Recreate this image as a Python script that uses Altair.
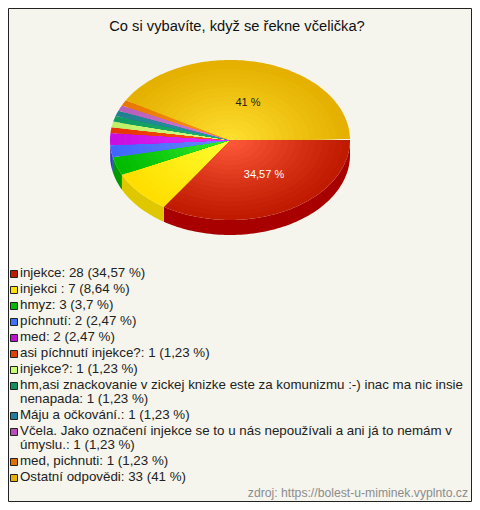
import math
import altair as alt

title_text = "Co si vybavíte, když se řekne včelička?"
source_text = "zdroj: https://bolest-u-miminek.vyplnto.cz"
shares = [34.57, 8.64, 3.7, 2.47, 2.47, 1.15, 1.15, 1.15, 1.15, 1.15, 1.15, 41]
legend_lines = [
    ["injekce: 28 (34,57 %)"],
    ["injekci : 7 (8,64 %)"],
    ["hmyz: 3 (3,7 %)"],
    ["píchnutí: 2 (2,47 %)"],
    ["med: 2 (2,47 %)"],
    ["asi píchnutí injekce?: 1 (1,23 %)"],
    ["injekce?: 1 (1,23 %)"],
    ["hm,asi znackovanie v zickej knizke este za komunizmu :-) inac ma nic insie", "nenapada: 1 (1,23 %)"],
    ["Máju a očkování.: 1 (1,23 %)"],
    ["Včela. Jako označení injekce se to u nás nepoužívali a ani já to nemám v", "úmyslu.: 1 (1,23 %)"],
    ["med, pichnuti: 1 (1,23 %)"],
    ["Ostatní odpovědi: 33 (41 %)"],
]
key_colors = ["#c01a00", "#ffe000", "#00bb00", "#4070ff", "#c010d0", "#e04000",
              "#c8ff70", "#109060", "#207f9f", "#b850b8", "#e07000", "#e8b000"]
inner_colors = ["#ff5a3a", "#ffff33", "#33ee33", "#6a8cff", "#e833ff", "#ff5a1a",
                "#d8ff90", "#20b878", "#3098b0", "#d880d8", "#ff9922", "#ffe030"]
outer_colors = ["#c01a00", "#ffdf00", "#00bb00", "#3f66ff", "#c80ee0", "#e63500",
                "#bff068", "#109a60", "#208090", "#b860b8", "#e87800", "#e5b000"]
side_colors = ["#a80000", "#e0c800", "#009900", "#2040c0", "#9000a0", "#b02000",
               "#90b050", "#087040", "#106070", "#904090", "#b05000", "#b08000"]
MARGIN = 8
W, H = 464, 494
CX, CY, RX, RY, DEPTH = 230 - MARGIN, 140 - MARGIN, 120, 80, 15
RINGS = 18
DEG_PER_SHARE = 3.57


def mix(a, b, t):
    pa = [int(a[i:i + 2], 16) for i in (1, 3, 5)]
    pb = [int(b[i:i + 2], 16) for i in (1, 3, 5)]
    return "#" + "".join(f"{round(x + (y - x) * t):02x}" for x, y in zip(pa, pb))


def feature(points, fill):
    ring = [list(p) for p in points] + [list(points[0])]
    return {"type": "Feature", "properties": {"fill": fill},
            "geometry": {"type": "Polygon", "coordinates": [ring]}}


def arc_points(a0, a1, scale=1.0, dy=0.0):
    n = max(2, int(abs(a1 - a0) / 1.5) + 1)
    out = []
    for i in range(n + 1):
        a = math.radians(a0 + (a1 - a0) * i / n)
        out.append((CX + RX * scale * math.cos(a), CY + dy + RY * scale * math.sin(a)))
    return out


spans = []
acc = 0.0
for s in shares:
    start = acc * DEG_PER_SHARE
    acc += s
    spans.append((start, acc * DEG_PER_SHARE))
# the last slice closes the circle, leaving only the thin seam seen at the east edge
spans[-1] = (spans[-1][0], 359.3)

features = []
for (a0, a1), side in zip(spans, side_colors):
    if a0 < 180:
        b1 = min(a1, 180)
        features.append(feature(arc_points(a0, b1) + arc_points(b1, a0, dy=DEPTH), side))
for (a0, a1), inner, outer in zip(spans, inner_colors, outer_colors):
    for r in range(RINGS):
        t = r / (RINGS - 1)
        scale = 1 - t * 0.97
        features.append(feature([(CX, CY)] + arc_points(a0, a1, scale), mix(outer, inner, t ** 1.1)))

legend_rows, key_rows = [], []
y = 273 - MARGIN
for lines, color in zip(legend_lines, key_colors):
    key_rows.append({"lon": 14 - MARGIN, "lat": y + 1, "fill": color})
    for j, line in enumerate(lines):
        legend_rows.append({"lon": 20 - MARGIN, "lat": y, "text": line})
        y += 14 if j < len(lines) - 1 else 16

proj = dict(type="identity", scale=1, translate=[0, 0])

# In a layered chart Vega-Lite fits the projection to the data: these two invisible
# corners make that fit the identity, so one data unit is one pixel.
corners = alt.Chart(alt.Data(values=[{"lon": 0, "lat": 0}, {"lon": W, "lat": H}])).mark_point(
    opacity=0, size=1
).encode(longitude="lon:Q", latitude="lat:Q").project(**proj)

frame_ring = [(0.5, 0.5), (W - 0.5, 0.5), (W - 0.5, H - 0.5), (0.5, H - 0.5)]
frame = alt.Chart(alt.Data(values=[feature(frame_ring, "#f5f5ed")])).mark_geoshape(
    stroke="#222222", strokeWidth=1, filled=False
).project(**proj)

pie = alt.Chart(alt.Data(values=features)).mark_geoshape(strokeWidth=0).encode(
    fill=alt.Fill("properties.fill:N", scale=None)
).project(**proj)

label_rows = [
    {"lon": 248 - MARGIN, "lat": 103 - MARGIN, "text": "41 %", "color": "#222222"},
    {"lon": 264 - MARGIN, "lat": 175 - MARGIN, "text": "34,57 %", "color": "#ffffff"},
]
pie_labels = alt.Chart(alt.Data(values=label_rows)).mark_text(
    font="Liberation Sans", fontSize=11, align="center", baseline="middle"
).encode(longitude="lon:Q", latitude="lat:Q", text="text:N",
         color=alt.Color("color:N", scale=None)).project(**proj)

keys = alt.Chart(alt.Data(values=key_rows)).mark_point(
    shape="square", filled=True, size=49, stroke="#222222", strokeWidth=1, opacity=1
).encode(longitude="lon:Q", latitude="lat:Q", fill=alt.Fill("fill:N", scale=None)).project(**proj)

legend = alt.Chart(alt.Data(values=legend_rows)).mark_text(
    font="Liberation Sans", fontSize=13.33, align="left", baseline="middle", color="#222222"
).encode(longitude="lon:Q", latitude="lat:Q", text="text:N").project(**proj)

title = alt.Chart(alt.Data(values=[{"lon": 237 - MARGIN, "lat": 27 - MARGIN, "text": title_text}])).mark_text(
    font="Liberation Sans", fontSize=14.7, align="center", baseline="middle", color="#111111"
).encode(longitude="lon:Q", latitude="lat:Q", text="text:N").project(**proj)

source = alt.Chart(alt.Data(values=[{"lon": 468 - MARGIN, "lat": 493 - MARGIN, "text": source_text}])).mark_text(
    font="Liberation Sans", fontSize=12.2, align="right", baseline="middle", color="#8c8c8c"
).encode(longitude="lon:Q", latitude="lat:Q", text="text:N").project(**proj)

chart = alt.layer(corners, frame, pie, pie_labels, keys, legend, title, source).properties(
    width=W, height=H, background="#f5f5ed", padding=0,
    autosize=alt.AutoSizeParams(type="none"),
).configure_view(stroke=None)

chart.save("out.html", embed_options={"renderer": "svg", "actions": False})
